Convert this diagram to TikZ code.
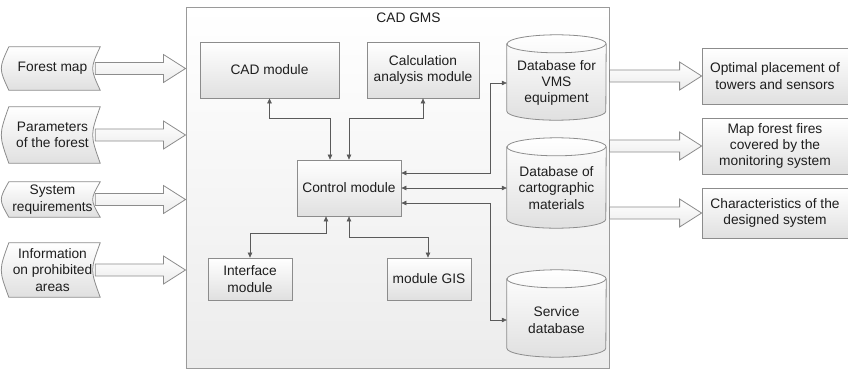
\documentclass[tikz,border=0pt]{standalone}
\usepackage{fontspec}
\setmainfont{Liberation Sans}
\usetikzlibrary{arrows.meta,calc}

\definecolor{edge}{HTML}{8C8C8C}
\definecolor{frameedge}{HTML}{9A9A9A}
\definecolor{wire}{HTML}{5A5A5A}
\definecolor{ink}{HTML}{1E1E1E}
\definecolor{shadebot}{HTML}{E0E0E0}
\definecolor{framebot}{HTML}{ECECEC}

\tikzset{
  every node/.style={font=\fontsize{13.8}{16.5}\selectfont, text=ink, align=center, inner sep=0pt},
  frame/.style={rectangle, draw=frameedge, line width=1pt, top color=white, bottom color=framebot},
  modbox/.style={rectangle, draw=edge, line width=0.8pt, top color=white, bottom color=shadebot},
  outbox/.style={modbox},
  holder/.style={rectangle, draw=none},
  dbshape/.style={draw=edge, line width=0.8pt, top color=white, bottom color=shadebot},
  dbline/.style={draw=edge, line width=0.8pt},
  tape/.style={draw=edge, line width=0.8pt, top color=white, bottom color=shadebot},
  fat/.style={draw=edge, line width=0.8pt, top color=white, bottom color=framebot, line join=miter},
  link/.style={draw=wire, line width=0.6pt,
    {Triangle[length=5bp,width=4.5bp]}-{Triangle[length=5bp,width=4.5bp]}},
}

% database cylinder drawn round a placeholder node
\newcommand\cylout[1]{%
  \path[dbshape] ([yshift=-9bp]#1.north west) -- ([yshift=9bp]#1.south west)
    arc[start angle=180,end angle=360,x radius=49.5bp,y radius=9bp]
    -- ([yshift=-9bp]#1.north east)
    arc[start angle=0,end angle=180,x radius=49.5bp,y radius=9bp] -- cycle;
  \draw[dbline] ([yshift=-9bp]#1.north west)
    arc[start angle=180,end angle=360,x radius=49.5bp,y radius=9bp];}

% input data shape with both sides bowed to the left
\newcommand\tapeout[1]{%
  \path[tape] (#1.north west) .. controls ([xshift=-10bp]#1.west) .. (#1.south west)
    -- (#1.south east) .. controls ([xshift=-10bp]#1.east) .. (#1.north east) -- cycle;}

% wide hollow arrow between two points at the same height
\newcommand\fatarrow[2]{%
  \path[fat] let \p1=#1, \p2=#2 in
    (\x1,\y1+6bp) -- (\x2-22bp,\y1+6bp) -- (\x2-22bp,\y1+14bp) -- (\x2,\y1)
    -- (\x2-22bp,\y1-14bp) -- (\x2-22bp,\y1-6bp) -- (\x1,\y1-6bp) -- cycle;}

\begin{document}
\begin{tikzpicture}[x=1bp,y=-1bp]
\useasboundingbox (0,0) rectangle (848,370);

% system frame
\node[frame, minimum width=423bp, minimum height=361bp] (gms) at (397.5,187.5) {};
\node (gmstitle) at (408.5,18) {CAD GMS};

% inputs
\node[holder, minimum width=91bp, minimum height=43bp] (in1) at (54.5,68.5) {};
\node[holder, minimum width=91bp, minimum height=56bp] (in2) at (54.5,135) {};
\node[holder, minimum width=91bp, minimum height=35bp] (in3) at (54.5,199.5) {};
\node[holder, minimum width=91bp, minimum height=54bp] (in4) at (54.5,270) {};
\tapeout{in1}\tapeout{in2}\tapeout{in3}\tapeout{in4}
\node (in1t) at ([xshift=-2bp]in1.center) {Forest map};
\node (in2t) at ([xshift=-2bp]in2.center) {Parameters\\of the forest};
\node (in3t) at ([xshift=-2bp]in3.center) {System\\requirements};
\node (in4t) at ([xshift=-2bp]in4.center) {Information\\on prohibited\\areas};

\fatarrow{([xshift=-5bp]in1.east)}{(in1.east -| gms.west)}
\fatarrow{([xshift=-5bp]in2.east)}{(in2.east -| gms.west)}
\fatarrow{([xshift=-5bp]in3.east)}{(in3.east -| gms.west)}
\fatarrow{([xshift=-5bp]in4.east)}{(in4.east -| gms.west)}

% modules
\node[modbox, minimum width=139bp, minimum height=56bp] (cad) at (269.5,70) {CAD module};
\node[modbox, minimum width=112bp, minimum height=56bp] (calcm) at (423,70) {Calculation\\analysis module};
\node[modbox, minimum width=104bp, minimum height=56bp] (ctrl) at (349,188) {Control module};
\node[modbox, minimum width=84bp, minimum height=42bp] (iface) at (250,279) {Interface\\module};
\node[modbox, minimum width=84bp, minimum height=42bp] (gis) at (429,279) {module GIS};

% databases
\node[holder, minimum width=99bp, minimum height=85bp] (vms) at (556.5,77.5) {};
\node[holder, minimum width=99bp, minimum height=90bp] (carto) at (556.5,183) {};
\node[holder, minimum width=99bp, minimum height=87bp] (serv) at (556.5,313.5) {};
\cylout{vms}\cylout{carto}\cylout{serv}
\node (vmst) at ([yshift=-5.5bp]vms.center) {Database for\\VMS\\equipment};
\node (cartot) at ([yshift=-5bp]carto.center) {Database of\\cartographic\\materials};
\node (servt) at ([yshift=-6.5bp]serv.center) {Service\\database};

% outputs
\node[outbox, minimum width=150bp, minimum height=56bp] (opt) at (777,76) {};
\node[outbox, minimum width=150bp, minimum height=56bp] (fires) at (777,146) {};
\node[outbox, minimum width=150bp, minimum height=50bp] (chr) at (777,213) {};
\node (optt) at (775,76) {Optimal placement of\\towers and sensors};
\node (firest) at (775,146) {Map forest fires\\covered by the\\monitoring system};
\node (chrt) at (775,213) {Characteristics of the\\designed system};

\fatarrow{(opt.west -| gms.east)}{(opt.west)}
\fatarrow{(fires.west -| gms.east)}{(fires.west)}
\fatarrow{(chr.west -| gms.east)}{(chr.west)}

% internal links
\draw[link] (cad.south) -- ++(0,20) -| ([xshift=-19bp]ctrl.north);
\draw[link] (calcm.south) -- ++(0,20) -| (ctrl.north);
\draw[link] ([yshift=15bp]ctrl.east) -- ++(89,0) |- ([yshift=-5.5bp]vms.west);
\draw[link] (ctrl.east) -- (ctrl.east -| carto.west);
\draw[link] ([yshift=-15bp]ctrl.east) -- ++(89,0) |- ([yshift=-6.5bp]serv.west);
\draw[link] ([xshift=-23bp]ctrl.south) -- ++(0,17) -| (iface.north);
\draw[link] (ctrl.south) -- ++(0,21) -| ([xshift=-1bp]gis.north);
\end{tikzpicture}
\end{document}
